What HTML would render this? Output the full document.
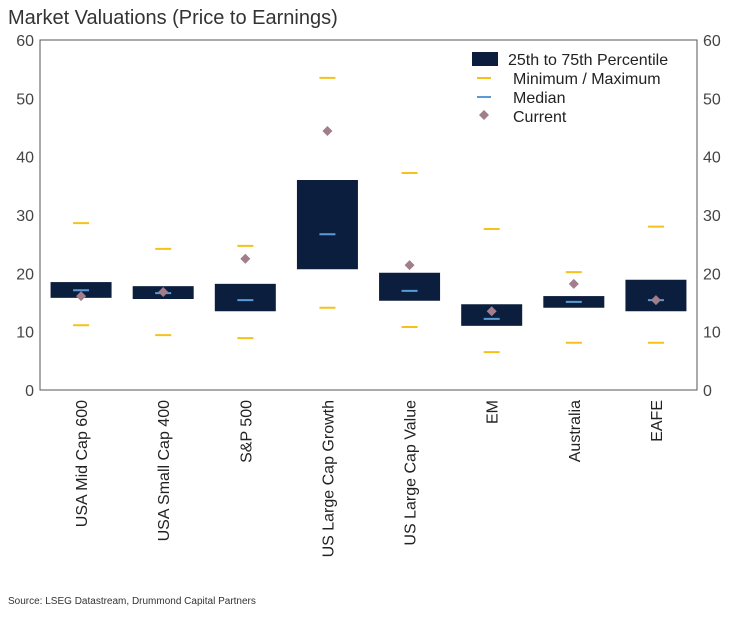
<!DOCTYPE html>
<html><head><meta charset="utf-8"><style>
body{margin:0;background:#fff;width:748px;height:617px;overflow:hidden;font-family:"Liberation Sans",sans-serif}
svg text{font-family:"Liberation Sans",sans-serif}
</style></head><body>
<svg id="chart" width="748" height="617">
<text x="8" y="24" font-size="20" fill="#333">Market Valuations (Price to Earnings)</text>
<text x="8" y="604" font-size="10" fill="#333">Source: LSEG Datastream, Drummond Capital Partners</text>
<g id="g"></g>
</svg>
<script>
const categories=["USA Mid Cap 600","USA Small Cap 400","S&P 500","US Large Cap Growth","US Large Cap Value","EM","Australia","EAFE"];
const q75=[18.5,17.8,18.2,36,20.1,14.7,16.1,18.9];
const q25=[15.8,15.6,13.5,20.7,15.3,11,14.1,13.5];
const medians=[17.1,16.6,15.4,26.7,17,12.2,15.1,15.4];
const mins=[11.1,9.4,8.9,14.1,10.8,6.5,8.1,8.1];
const maxs=[28.6,24.2,24.7,53.5,37.2,27.6,20.2,28];
const currents=[16.1,16.8,22.5,44.4,21.4,13.5,18.2,15.4];
const ticks=[0,10,20,30,40,50,60];
const L=40,R=697,T=40,B=390,NS="http://www.w3.org/2000/svg";
const g=document.getElementById('g');
const y=v=>B-(v/60)*(B-T);
const bw=(R-L)/categories.length;
const xc=i=>L+bw*(i+0.5);
function mk(t,a,p){const e=document.createElementNS(NS,t);for(const k in a)e.setAttribute(k,a[k]);(p||g).appendChild(e);return e;}
let f=mk('rect',{x:L,y:T,width:R-L,height:B-T,fill:'none',stroke:'#555','stroke-width':1});


ticks.forEach(t=>{
 let a=mk('text',{x:L-6,y:y(t)+6,'font-size':16,fill:'#444','text-anchor':'end'});a.textContent=t;
 
 
 let b=mk('text',{x:R+6,y:y(t)+6,'font-size':16,fill:'#444'});b.textContent=t;
 
 
});
categories.forEach((c,i)=>{
 const x=xc(i),w=61;
 let r=mk('rect',{x:x-w/2,y:y(q75[i]),width:w,height:y(q25[i])-y(q75[i]),fill:'#0b1e3e'});
 
 
 [[mins[i],'#f6c11b','min'],[maxs[i],'#f6c11b','max'],[medians[i],'#5b9bd5','median']].forEach(([v,col,n])=>{
  let l=mk('line',{x1:x-8,x2:x+8,y1:y(v),y2:y(v),stroke:col,'stroke-width':2});
  
  
 });
 const cy=y(currents[i]);
 let d=mk('path',{d:`M${x} ${cy-5}L${x+5} ${cy}L${x} ${cy+5}L${x-5} ${cy}Z`,fill:'#a27d8b'});
 
 
 let t=mk('text',{x:0,y:0,'font-size':16,fill:'#222','text-anchor':'end',transform:`translate(${x+6},${B+10}) rotate(-90)`});
 t.textContent=c;
 
 
});
const lg=mk('g',{});


mk('rect',{x:472,y:52,width:26,height:14,fill:'#0b1e3e'},lg);
mk('line',{x1:477,x2:491,y1:78,y2:78,stroke:'#f6c11b','stroke-width':2},lg);
mk('line',{x1:477,x2:491,y1:97,y2:97,stroke:'#5b9bd5','stroke-width':2},lg);
mk('path',{d:'M484 110L489 115L484 120L479 115Z',fill:'#a27d8b'},lg);
[["25th to 75th Percentile",508,65],["Minimum / Maximum",513,84],["Median",513,103],["Current",513,122]].forEach(([s,x,yy])=>{
 let t=mk('text',{x:x,y:yy,'font-size':16,fill:'#222'},lg);t.textContent=s;
 
 
});
</script>
</body></html>
